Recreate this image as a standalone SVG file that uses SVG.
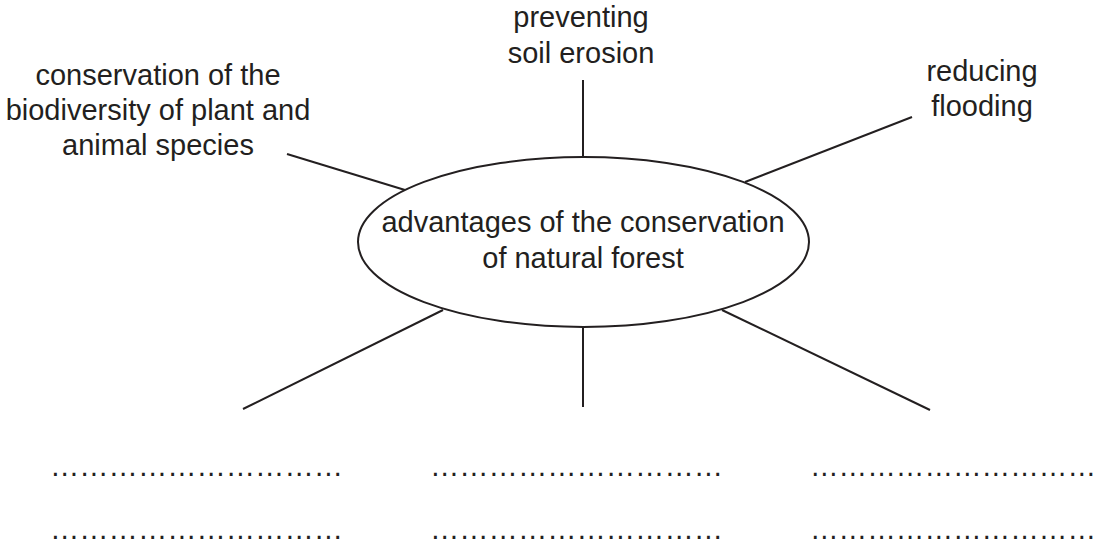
<svg xmlns="http://www.w3.org/2000/svg" width="1100" height="547" viewBox="0 0 1100 547">
<style>
text{font-family:"Liberation Sans",Arial,sans-serif;font-size:29px;fill:#231f20}
.c{text-anchor:middle}
.ln{stroke:#231f20;stroke-width:2;fill:none}
</style>
<rect width="1100" height="547" fill="#fff"/>
<g id="connectors">
<line class="ln" x1="583" y1="80" x2="583" y2="157"/>
<line class="ln" x1="287" y1="154" x2="405" y2="190"/>
<line class="ln" x1="912" y1="117" x2="745" y2="182"/>
<line class="ln" x1="443" y1="310" x2="243" y2="409"/>
<line class="ln" x1="583" y1="327" x2="583" y2="407"/>
<line class="ln" x1="722" y1="310" x2="930" y2="410"/>
</g>
<g id="center">
<ellipse class="ln" cx="583.5" cy="242" rx="225.5" ry="85"/>
<text class="c" x="583" y="232">advantages of the conservation</text>
<text class="c" x="583" y="268">of natural forest</text>
</g>
<g id="top">
<text class="c" x="581" y="27">preventing</text>
<text class="c" x="581" y="63">soil erosion</text>
</g>
<g id="left">
<text class="c" x="158" y="85">conservation of the</text>
<text class="c" x="158" y="120">biodiversity of plant and</text>
<text class="c" x="158" y="155">animal species</text>
</g>
<g id="right">
<text class="c" x="982" y="81">reducing</text>
<text class="c" x="982" y="116">flooding</text>
</g>
<g id="blanks">
<text x="50" y="476" textLength="293" lengthAdjust="spacingAndGlyphs">&#8230;&#8230;&#8230;&#8230;&#8230;&#8230;&#8230;&#8230;&#8230;&#8230;</text>
<text x="430" y="476" textLength="293" lengthAdjust="spacingAndGlyphs">&#8230;&#8230;&#8230;&#8230;&#8230;&#8230;&#8230;&#8230;&#8230;&#8230;</text>
<text x="810" y="476" textLength="286" lengthAdjust="spacingAndGlyphs">&#8230;&#8230;&#8230;&#8230;&#8230;&#8230;&#8230;&#8230;&#8230;&#8230;</text>
<text x="50" y="539" textLength="293" lengthAdjust="spacingAndGlyphs">&#8230;&#8230;&#8230;&#8230;&#8230;&#8230;&#8230;&#8230;&#8230;&#8230;</text>
<text x="430" y="539" textLength="293" lengthAdjust="spacingAndGlyphs">&#8230;&#8230;&#8230;&#8230;&#8230;&#8230;&#8230;&#8230;&#8230;&#8230;</text>
<text x="810" y="539" textLength="286" lengthAdjust="spacingAndGlyphs">&#8230;&#8230;&#8230;&#8230;&#8230;&#8230;&#8230;&#8230;&#8230;&#8230;</text>
</g>
</svg>
